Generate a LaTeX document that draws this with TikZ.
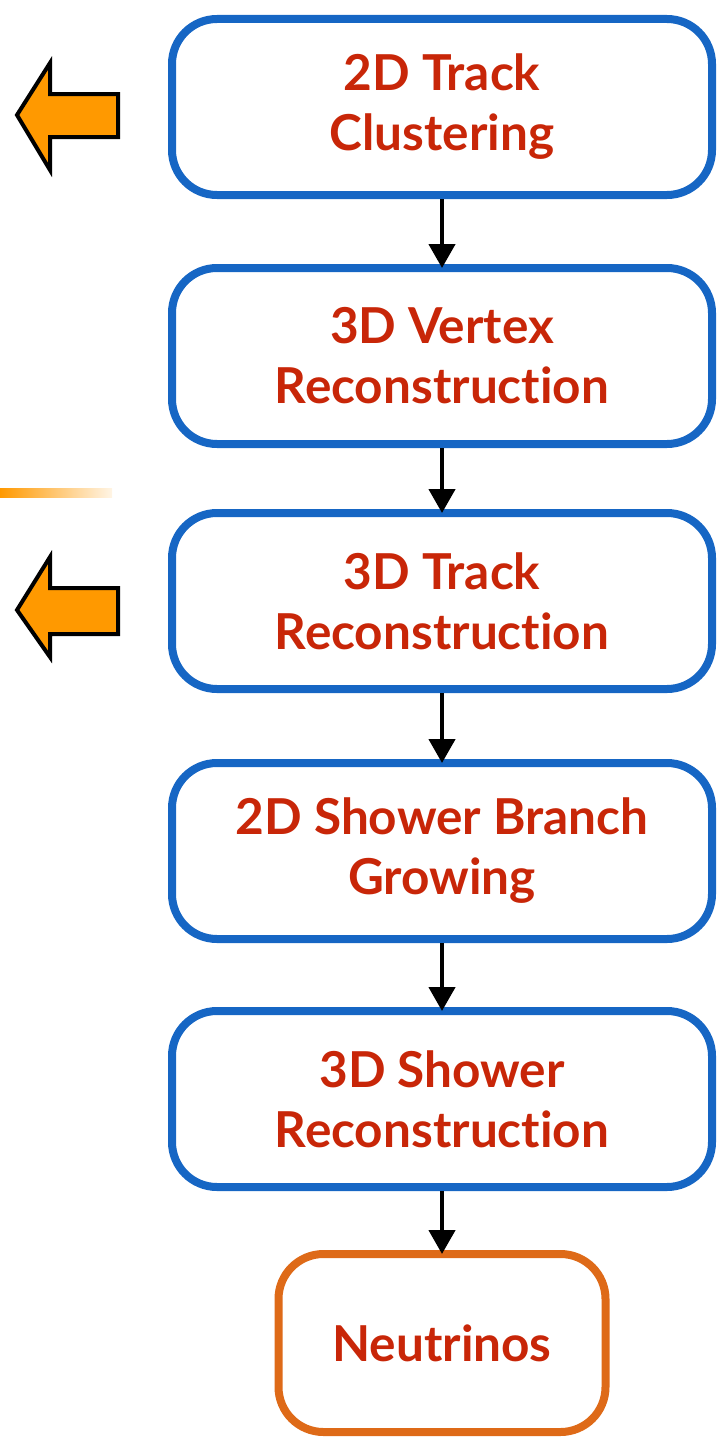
\documentclass[tikz,border=0pt]{standalone}
\usepackage{fontspec}
\setmainfont{Lato}[Ligatures={NoCommon}]
\usetikzlibrary{positioning, arrows.meta}
\definecolor{stageblue}{RGB}{22,102,196}
\definecolor{stagetext}{RGB}{200,38,8}
\definecolor{nuorange}{RGB}{222,106,24}
\definecolor{flagorange}{RGB}{255,153,0}

\tikzset{
  stage/.style={draw=stageblue, line width=8pt, rounded corners=45pt, minimum width=540pt, minimum height=176pt, align=center, text=stagetext, font=\fontsize{49.5}{60}\selectfont\bfseries},
  final/.style={stage, draw=nuorange, minimum width=327pt, minimum height=178pt},
  flow/.style={-{Triangle[length=24pt,width=26pt]}, line width=4.5pt, shorten >=-4pt},
  flag/.style={fill=flagorange, draw=black, line width=4pt, line join=miter},
}

\begin{document}
\begin{tikzpicture}[x=1pt, y=-1pt]
    \useasboundingbox (0,0) rectangle (724,1445);
    \node[stage] (trk2d) at (442,107) {2D Track\\Clustering};
    \node[stage] (vtx3d) at (442,356) {3D Vertex\\Reconstruction};
    \node[stage] (trk3d) at (442,601) {3D Track\\Reconstruction};
    \node[stage] (shw2d) at (442,851) {2D Shower Branch\\Growing};
    \node[stage] (shw3d) at (442,1099) {3D Shower\\Reconstruction};
    \node[final] (nu) at (442,1343) {Neutrinos};
    \draw[flow] (trk2d) -- (vtx3d);
    \draw[flow] (vtx3d) -- (trk3d);
    \draw[flow] (trk3d) -- (shw2d);
    \draw[flow] (shw2d) -- (shw3d);
    \draw[flow] (shw3d) -- (nu);
    % side markers
    \draw[flag] (17,115) -- (50,63) -- (50,94) -- (118,94) -- (118,137) -- (50,137) -- (50,170) -- cycle;
    \draw[flag] (17,610) -- (50,557) -- (50,588) -- (118,588) -- (118,634) -- (50,634) -- (50,657) -- cycle;
    \fill[left color=flagorange, right color=flagorange!10] (0,488) rectangle (112,497);
\end{tikzpicture}
\end{document}
